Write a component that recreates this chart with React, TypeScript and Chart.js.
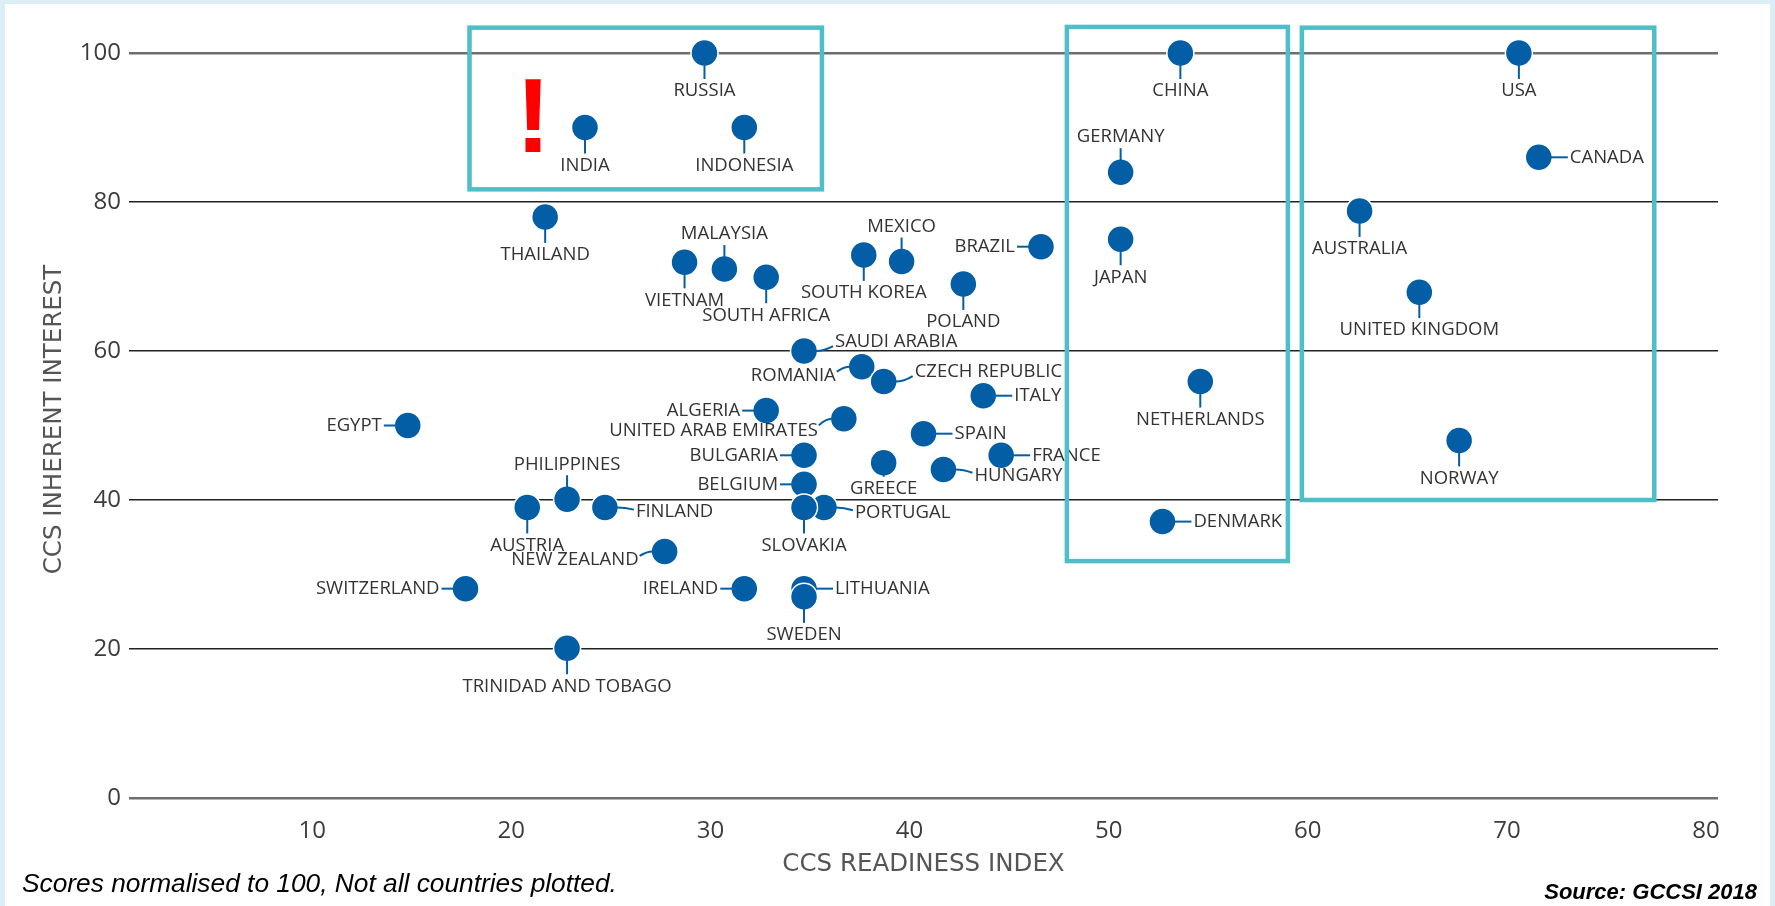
import React, { useEffect, useRef } from 'react';
import { Chart, registerables } from 'chart.js';

Chart.register(...registerables);

// ---------- data ----------
const countries = [
  'RUSSIA', 'INDIA', 'INDONESIA', 'CHINA', 'USA', 'CANADA', 'GERMANY', 'JAPAN',
  'THAILAND', 'AUSTRALIA', 'MALAYSIA', 'VIETNAM', 'SOUTH AFRICA', 'SOUTH KOREA',
  'MEXICO', 'BRAZIL', 'POLAND', 'UNITED KINGDOM', 'SAUDI ARABIA', 'ROMANIA',
  'CZECH REPUBLIC', 'ITALY', 'NETHERLANDS', 'ALGERIA', 'UNITED ARAB EMIRATES',
  'EGYPT', 'SPAIN', 'NORWAY', 'BULGARIA', 'FRANCE', 'GREECE', 'HUNGARY', 'BELGIUM',
  'PHILIPPINES', 'AUSTRIA', 'FINLAND', 'PORTUGAL', 'SLOVAKIA', 'DENMARK',
  'NEW ZEALAND', 'SWITZERLAND', 'IRELAND', 'LITHUANIA', 'SWEDEN', 'TRINIDAD AND TOBAGO',
];

// CCS readiness index (x)
const readiness = [
  29.7, 23.7, 31.7, 53.6, 70.6, 71.6, 50.6, 50.6,
  21.7, 62.6, 30.7, 28.7, 32.8, 37.7,
  39.6, 46.6, 42.7, 65.6, 34.7, 37.6,
  38.7, 43.7, 54.6, 32.8, 36.7,
  14.8, 40.7, 67.6, 34.7, 44.6, 38.7, 41.7, 34.7,
  22.8, 20.8, 24.7, 35.7, 34.7, 52.7,
  27.7, 17.7, 31.7, 34.7, 34.7, 22.8,
];

// CCS inherent interest (y)
const interest = [
  100, 90, 90, 100, 100, 86, 84, 75,
  78, 78.8, 71, 71.9, 69.9, 72.9,
  72, 74, 69, 67.9, 60, 57.9,
  55.9, 54, 55.9, 52, 50.9,
  50, 48.9, 48, 46, 46, 45, 44.1, 42.1,
  40.1, 39, 39, 39, 39, 37.1,
  33.1, 28.1, 28.1, 28.1, 27, 20.1,
];

const xTicks = [10, 20, 30, 40, 50, 60, 70, 80];
const yTicks = [0, 20, 40, 60, 80, 100];
const xTitle = 'CCS READINESS INDEX';
const yTitle = 'CCS INHERENT INTEREST';
const footnote = 'Scores normalised to 100, Not all countries plotted.';
const sourceText = 'Source: GCCSI 2018';

// highlight boxes (data units)
const boxLeft = [17.9, 47.9, 59.7];
const boxRight = [35.6, 59.0, 77.4];
const boxTop = [103.4, 103.5, 103.4];
const boxBottom = [81.7, 31.8, 40.0];

// red exclamation mark (data units)
const alertX = 21.1;
const alertY = 86.7;

// ---------- label placement (style) ----------
// side: b = below, a = above, l = left, r = right, g = short below; second value = vertical nudge in px
const placement: Record<string, [string, number]> = {
  GERMANY: ['a', 0], MALAYSIA: ['a', 0], MEXICO: ['a', 0], PHILIPPINES: ['a', 0],
  BRAZIL: ['l', 0], ROMANIA: ['l', 9], ALGERIA: ['l', 0], 'UNITED ARAB EMIRATES': ['l', 12],
  EGYPT: ['l', 0], BULGARIA: ['l', 0], BELGIUM: ['l', 0], 'NEW ZEALAND': ['l', 8],
  SWITZERLAND: ['l', 0], IRELAND: ['l', 0],
  CANADA: ['r', 0], 'SAUDI ARABIA': ['r', -9], 'CZECH REPUBLIC': ['r', -10], ITALY: ['r', 0],
  SPAIN: ['r', 0], FRANCE: ['r', 0], HUNGARY: ['r', 6], FINLAND: ['r', 4], PORTUGAL: ['r', 5],
  DENMARK: ['r', 0], LITHUANIA: ['r', 0],
  GREECE: ['g', 0],
};

const POINT_COLOR = '#035ea6';
const LABEL_COLOR = '#333333';
const BOX_COLOR = '#4ebfc9';

const labelPlugin = {
  id: 'countryLabels',
  afterDatasetsDraw(chart: any) {
    const ctx = chart.ctx;
    const meta = chart.getDatasetMeta(0);
    ctx.save();
    ctx.font = '18.5px "Open Sans"';
    ctx.fillStyle = LABEL_COLOR;
    ctx.strokeStyle = POINT_COLOR;
    ctx.lineWidth = 2;
    meta.data.forEach((el: any, i: number) => {
      const name = countries[i];
      const { x, y } = el;
      const [side, dy] = placement[name] || ['b', 0];
      ctx.beginPath();
      if (side === 'b' || side === 'g') {
        const off = side === 'g' ? 26 : 38;
        ctx.moveTo(x, y + 12);
        ctx.lineTo(x, y + off - 12);
        ctx.stroke();
        ctx.textAlign = 'center';
        ctx.textBaseline = 'middle';
        ctx.fillText(name, x, y + off);
      } else if (side === 'a') {
        ctx.moveTo(x, y - 12);
        ctx.lineTo(x, y - 24);
        ctx.stroke();
        ctx.textAlign = 'center';
        ctx.textBaseline = 'middle';
        ctx.fillText(name, x, y - 35);
      } else if (side === 'l') {
        ctx.moveTo(x - 12, y);
        if (dy) ctx.quadraticCurveTo(x - 18, y, x - 25, y + dy * 0.55);
        else ctx.lineTo(x - 24, y);
        ctx.stroke();
        ctx.textAlign = 'right';
        ctx.textBaseline = 'middle';
        ctx.fillText(name, x - 26, y + dy);
      } else {
        ctx.moveTo(x + 12, y);
        if (dy) ctx.quadraticCurveTo(x + 20, y, x + 29, y + dy * 0.55);
        else ctx.lineTo(x + 29, y);
        ctx.stroke();
        ctx.textAlign = 'left';
        ctx.textBaseline = 'middle';
        ctx.fillText(name, x + 31, y + dy);
      }
    });
    ctx.restore();
  },
};

const overlayPlugin = {
  id: 'boxesOverlay',
  afterDraw(chart: any) {
    const ctx = chart.ctx;
    const xs = chart.scales.x;
    const ys = chart.scales.y;
    ctx.save();
    ctx.strokeStyle = BOX_COLOR;
    ctx.lineWidth = 4.5;
    for (let i = 0; i < boxLeft.length; i++) {
      const l = xs.getPixelForValue(boxLeft[i]);
      const r = xs.getPixelForValue(boxRight[i]);
      const t = ys.getPixelForValue(boxTop[i]);
      const b = ys.getPixelForValue(boxBottom[i]);
      ctx.strokeRect(l, t, r - l, b - t);
    }
    ctx.fillStyle = '#ff0000';
    ctx.font = 'bold 106px "Liberation Sans"';
    ctx.textAlign = 'center';
    ctx.textBaseline = 'alphabetic';
    ctx.fillText('!', xs.getPixelForValue(alertX), ys.getPixelForValue(alertY));

    // y axis title, centred slightly above the axis midpoint as in the reference
    ctx.fillStyle = '#555555';
    ctx.font = '24.5px "DejaVu Sans"';
    ctx.textAlign = 'center';
    ctx.textBaseline = 'middle';
    ctx.translate(54.5, (ys.top + ys.bottom) / 2 - 6);
    ctx.rotate(-Math.PI / 2);
    ctx.fillText(yTitle, 0, 0);
    ctx.restore();
  },
};

export default function App() {
  const ref = useRef<HTMLCanvasElement | null>(null);

  useEffect(() => {
    if (!ref.current) return;
    const points = countries.map((_, i) => ({ x: readiness[i], y: interest[i] }));
    const chart = new Chart(ref.current, {
      type: 'scatter',
      data: {
        datasets: [
          {
            label: 'Countries',
            data: points,
            backgroundColor: POINT_COLOR,
            borderColor: '#ffffff',
            borderWidth: 1.5,
            pointRadius: 13.5,
            pointHoverRadius: 13.5,
            clip: false as any,
          },
        ],
      },
      options: {
        responsive: false,
        animation: false,
        devicePixelRatio: 1,
        layout: { padding: { left: 0, top: 53, right: 57, bottom: 0 } },
        plugins: {
          legend: { display: false },
          tooltip: { enabled: false },
          title: { display: false },
        },
        scales: {
          x: {
            type: 'linear',
            min: 0.8,
            max: 80.6,
            afterBuildTicks: (s: any) => {
              s.ticks = xTicks.map((v) => ({ value: v }));
            },
            afterFit: (s: any) => {
              s.height = 108;
            },
            grid: { display: false, drawTicks: false },
            border: { display: false },
            ticks: {
              font: { family: 'Open Sans', size: 24 },
              color: '#3c3c3c',
              padding: 19,
            },
            title: {
              display: true,
              text: xTitle,
              font: { family: 'DejaVu Sans', size: 24.5 },
              color: '#555555',
              padding: { top: 0, bottom: 27 },
            },
          },
          y: {
            type: 'linear',
            min: 0,
            max: 100,
            afterBuildTicks: (s: any) => {
              s.ticks = yTicks.map((v) => ({ value: v }));
            },
            afterFit: (s: any) => {
              s.width = 129;
            },
            grid: {
              drawTicks: false,
              color: (c: any) =>
                c.tick && (c.tick.value === 0 || c.tick.value === 100) ? '#6e6e6e' : '#222222',
              lineWidth: (c: any) =>
                c.tick && (c.tick.value === 0 || c.tick.value === 100) ? 2.5 : 1.5,
            },
            border: { display: false },
            ticks: {
              font: { family: 'Open Sans', size: 24 },
              color: '#3c3c3c',
              padding: 8,
            },
            title: { display: false },
          },
        },
      },
      plugins: [labelPlugin, overlayPlugin],
    } as any);
    return () => chart.destroy();
  }, []);

  return (
    <div
      style={{
        position: 'fixed',
        left: 0,
        top: 0,
        width: 1775,
        height: 906,
        background: '#dbeef6',
        overflow: 'hidden',
      }}
    >
      <div
        style={{ position: 'absolute', left: 5, top: 4, width: 1765, height: 902, background: '#ffffff' }}
      />
      <canvas
        ref={ref}
        width={1775}
        height={906}
        style={{ position: 'absolute', left: 0, top: 0, width: 1775, height: 906 }}
      />
      <div
        style={{
          position: 'absolute',
          left: 22,
          top: 868,
          font: 'italic 26.3px "Liberation Sans"',
          lineHeight: '30px',
          color: '#000',
          whiteSpace: 'nowrap',
        }}
      >
        {footnote}
      </div>
      <div
        style={{
          position: 'absolute',
          right: 18,
          top: 879,
          font: 'italic bold 22px "Liberation Sans"',
          lineHeight: '26px',
          color: '#000',
          whiteSpace: 'nowrap',
        }}
      >
        {sourceText}
      </div>
    </div>
  );
}
